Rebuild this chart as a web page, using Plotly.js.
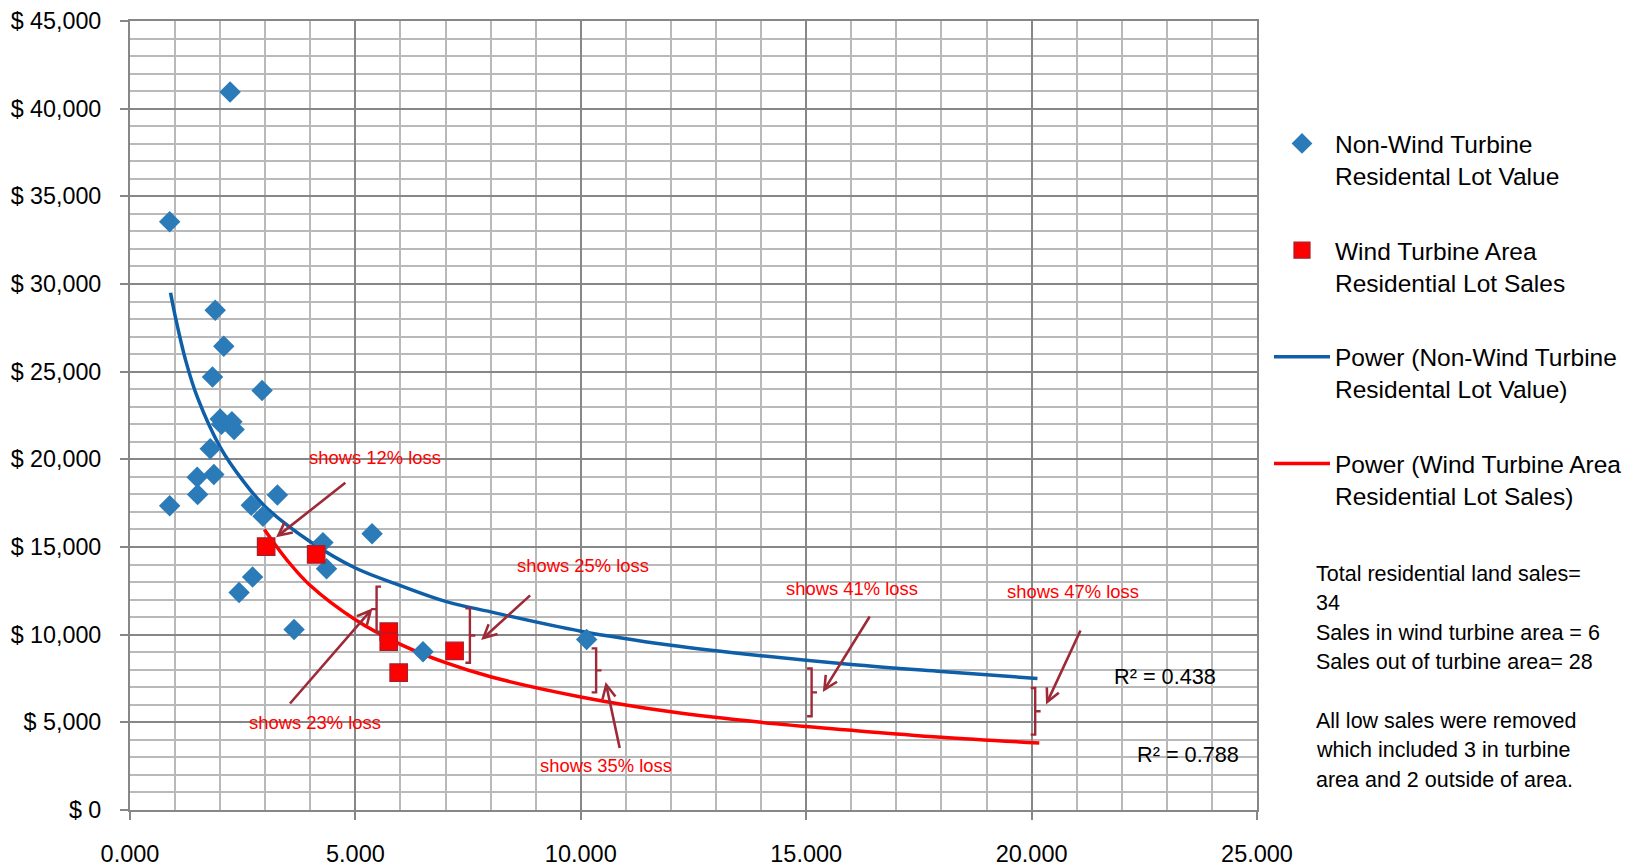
<!DOCTYPE html>
<html>
<head>
<meta charset="utf-8">
<script src="https://cdn.plot.ly/plotly-3.0.1.min.js"></script>
<style>html,body{margin:0;padding:0;background:#fff;}#chart{width:1637px;height:868px;}</style>
</head>
<body>
<div id="chart"></div>
<script>
// ---- Data ----
const nonWindX = [2.22, 0.88, 1.89, 2.08, 1.83, 2.93, 2.00, 2.03, 2.26, 2.31, 1.78, 1.49, 1.86, 1.50, 0.88, 3.27, 2.69, 2.95, 5.37, 4.28, 4.36, 2.72, 2.42, 3.64, 6.50, 10.13];
const nonWindY = [40950, 33550, 28500, 26450, 24700, 23920, 22300, 22000, 22150, 21700, 20600, 18980, 19140, 18000, 17350, 17960, 17380, 16750, 15760, 15250, 13760, 13290, 12400, 10300, 9030, 9730];

const windX = [3.02, 4.13, 5.74, 5.74, 5.96, 7.20];
const windY = [15020, 14580, 10170, 9600, 7830, 9070];

// Power trendlines, points
const powerNonWindX = [0.9, 1.0, 1.25, 1.5, 2, 2.5, 3, 4, 5, 6, 7, 8, 10, 12, 14, 16, 18, 20.13];
const powerNonWindY = [29500, 28200, 25500, 23500, 20700, 18800, 17300, 15300, 13800, 12800, 11900, 11300, 10200, 9400, 8800, 8300, 7900, 7500];

const powerWindX = [2.98, 3.5, 4, 5, 6, 7, 8, 10, 12, 14, 16, 18, 20.17];
const powerWindY = [16000, 14200, 12800, 10850, 9450, 8400, 7600, 6450, 5600, 5000, 4550, 4150, 3820];

const seriesNames = [
  'Non-Wind Turbine<br>Residental Lot Value',
  'Wind Turbine Area<br>Residential Lot Sales',
  'Power (Non-Wind Turbine<br>Residental Lot Value)',
  'Power (Wind Turbine Area<br>Residential Lot Sales)'
];

const lossLabels = ['shows 12% loss', 'shows 23% loss', 'shows 25% loss', 'shows 35% loss', 'shows 41% loss', 'shows 47% loss'];
const r2Labels = ['R² = 0.438', 'R² = 0.788'];
const noteLines = ['Total residential land sales=', '34', 'Sales in wind turbine area = 6', 'Sales out of turbine area= 28', '',
  'All low sales were removed', 'which included 3 in turbine', 'area and 2 outside of area.'];

// ---- Styling ----
const FONT = 'Liberation Sans, Arial, sans-serif';
const MAROON = '#9E2A38';

const traces = [
  {x: nonWindX, y: nonWindY, type: 'scatter', mode: 'markers', name: seriesNames[0], legendgroup: 'a', legendrank: 1,
   marker: {symbol: 'diamond', size: 16.5, color: '#2B7BB9', line: {width: 0}}},
  {x: windX, y: windY, type: 'scatter', mode: 'markers', name: seriesNames[1], legendgroup: 'b', legendrank: 2,
   marker: {symbol: 'square', size: 17.5, color: '#FF0000', line: {width: 1.2, color: '#A3202C'}}},
  {x: powerNonWindX, y: powerNonWindY, type: 'scatter', mode: 'lines', name: seriesNames[2], legendgroup: 'c', legendrank: 3,
   line: {color: '#0F5FA8', width: 3.5, shape: 'spline', smoothing: 1}},
  {x: powerWindX, y: powerWindY, type: 'scatter', mode: 'lines', name: seriesNames[3], legendgroup: 'd', legendrank: 4,
   line: {color: '#FF0000', width: 3.5, shape: 'spline', smoothing: 1}}
];
const ordered = [traces[2], traces[3], traces[0], traces[1]];

// loss-label positions (annotation layout)
const labelPos = [[5.44, 20120], [4.11, 4980], [10.05, 13920], [10.56, 2550], [16.02, 12640], [20.92, 12470]];
const arrows = [
  [3.24, 15550, 4.81, 18730],
  [5.38, 11500, 3.52, 5990],
  [7.79, 9700, 8.91, 12320],
  [10.55, 7300, 10.87, 3450],
  [15.37, 6730, 16.43, 11120],
  [20.32, 6010, 21.10, 10320]
];
// brackets: [x, yBottom, yTop, dir]
const brackets = [
  [5.47, 10170, 12740, -1],
  [7.54, 8400, 11500, 1],
  [10.34, 6710, 9220, 1],
  [15.12, 5350, 8070, 1],
  [20.08, 4300, 6960, 1]
];

const annotations = [];
labelPos.forEach((p, i) => annotations.push({
  x: p[0], y: p[1], xref: 'x', yref: 'y', text: lossLabels[i], showarrow: false,
  font: {family: FONT, size: 18.4, color: '#FF0000'}
}));
arrows.forEach(a => annotations.push({
  x: a[0], y: a[1], ax: a[2], ay: a[3], xref: 'x', yref: 'y', axref: 'x', ayref: 'y',
  text: '', showarrow: true, arrowhead: 5, arrowsize: 1, arrowwidth: 2.6, arrowcolor: MAROON, standoff: 0
}));
annotations.push({x: 22.97, y: 7630, xref: 'x', yref: 'y', text: r2Labels[0], showarrow: false,
  font: {family: FONT, size: 21.7, color: '#000'}});
annotations.push({x: 23.48, y: 3180, xref: 'x', yref: 'y', text: r2Labels[1], showarrow: false,
  font: {family: FONT, size: 21.7, color: '#000'}});

const PL = 130, PR = 1257, PT = 21, PB = 810;
// side note, one annotation per line
const noteTop = 574, noteStep = 29.4;
noteLines.forEach((t, i) => {
  if (!t) return;
  const py = noteTop + i * noteStep;
  annotations.push({x: (1314 - PL) / (PR - PL), y: 1 - (py - PT) / (PB - PT), xref: 'paper', yref: 'paper',
    xanchor: 'left', yanchor: 'middle', align: 'left', text: t, showarrow: false,
    font: {family: FONT, size: 21.5, color: '#000'}});
});

const shapes = brackets.map(b => {
  const [x, y0, y1, d] = b;
  const s = 0.1 * d;
  const ym = (y0 + y1) / 2;
  const path = `M${x - s},${y1} L${x},${y1} L${x},${y0} L${x - s},${y0} M${x},${ym} L${x + s * 1.2},${ym}`;
  return {type: 'path', xref: 'x', yref: 'y', path: path, line: {color: MAROON, width: 2.4}};
});

const gridMajor = '#878787';
const gridMinor = '#B9B9B9';

const layout = {
  width: 1637, height: 868,
  margin: {l: PL, r: 1637 - PR, t: PT, b: 868 - PB, pad: 0},
  paper_bgcolor: '#fff', plot_bgcolor: '#fff',
  showlegend: true,
  hovermode: false,
  font: {family: FONT, color: '#000'},
  xaxis: {
    range: [0, 25], dtick: 5, tick0: 0, tickformat: '.3f',
    showgrid: true, gridcolor: gridMajor, gridwidth: 2,
    minor: {dtick: 1, showgrid: true, gridcolor: gridMinor, gridwidth: 2},
    showline: true, linecolor: gridMajor, linewidth: 2, mirror: true,
    ticks: 'outside', ticklen: 8, tickcolor: gridMajor, tickwidth: 2,
    ticklabelstandoff: 14,
    tickfont: {family: FONT, size: 23.5, color: '#000'}, zeroline: false
  },
  yaxis: {
    range: [0, 45000], dtick: 5000, tick0: 0, tickprefix: '$ ', tickformat: ',d',
    showgrid: true, gridcolor: gridMajor, gridwidth: 2,
    minor: {dtick: 1000, showgrid: true, gridcolor: gridMinor, gridwidth: 2},
    showline: true, linecolor: gridMajor, linewidth: 2, mirror: true,
    ticks: 'outside', ticklen: 8, tickcolor: gridMajor, tickwidth: 2,
    ticklabelstandoff: 14,
    tickfont: {family: FONT, size: 23.3, color: '#000'}, zeroline: false
  },
  legend: {
    xref: 'container', yref: 'container', x: 1269 / 1637, y: 1 - 121 / 868,
    xanchor: 'left', yanchor: 'top', valign: 'top',
    font: {family: FONT, size: 24.5, color: '#000'},
    bgcolor: 'rgba(0,0,0,0)', borderwidth: 0, tracegroupgap: 40,
    traceorder: 'grouped', itemwidth: 56
  },
  annotations: annotations,
  shapes: shapes
};

Plotly.newPlot('chart', ordered, layout, {displayModeBar: false, staticPlot: true});
</script>
</body>
</html>
